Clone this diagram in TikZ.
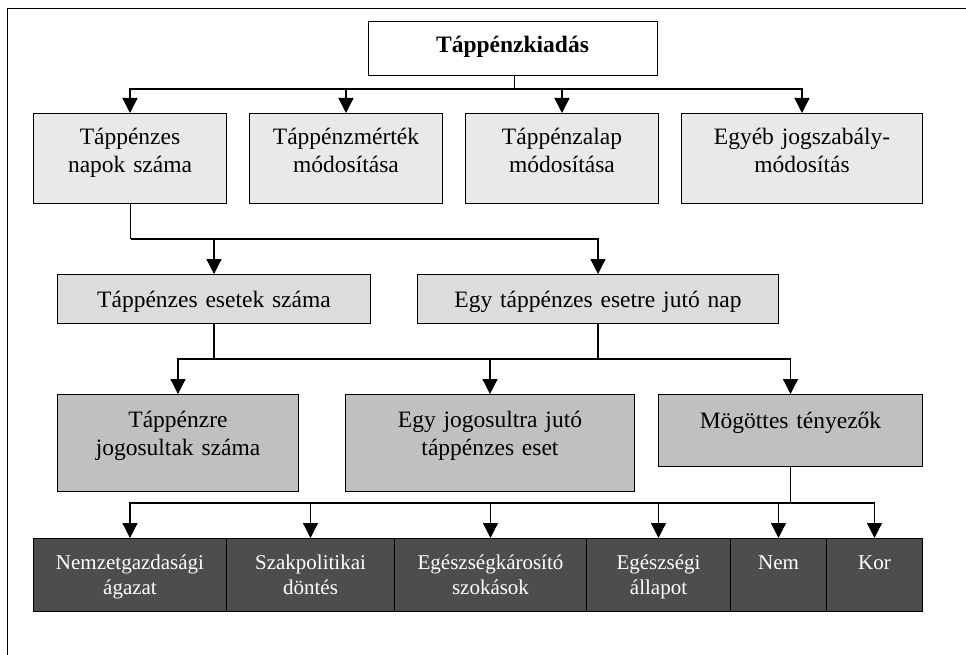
\documentclass[tikz,border=0pt]{standalone}
\usepackage{fontspec}
\setmainfont{Liberation Serif}
\usetikzlibrary{arrows.meta}
\definecolor{fillTop}{HTML}{FFFFFF}
\definecolor{fillA}{HTML}{E9E9E9}
\definecolor{fillB}{HTML}{DCDCDC}
\definecolor{fillC}{HTML}{C0C0C0}
\definecolor{fillD}{HTML}{4D4D4D}
\begin{document}
\begin{tikzpicture}[x=1pt,y=-1pt,
  box/.style={draw=black, line width=1pt, inner sep=0pt, anchor=north west},
  lbl/.style={anchor=base, align=center, inner sep=0pt, font=\fontsize{23.5}{28}\selectfont},
  lbls/.style={anchor=base, align=center, inner sep=0pt, font=\fontsize{21}{25}\selectfont, text=white},
  ln/.style={line width=1.3pt},
  arr/.style={line width=1.3pt, -{Triangle[width=15pt,length=15pt]}}]
\useasboundingbox (0,0) rectangle (966,655);
\draw[line width=1pt] (7,660) -- (7,9) -- (970,9);

% top
\node[box, fill=fillTop, minimum width=289pt, minimum height=54pt] (top) at (368,21) {};
\node[lbl, text width=280pt, font=\fontsize{23.5}{28}\selectfont\bfseries] (ttop) at (512.5,53) {Táppénzkiadás};

% row 2
\node[box, fill=fillA, minimum width=193pt, minimum height=90pt] (b1) at (33,113) {};
\node[box, fill=fillA, minimum width=193pt, minimum height=90pt] (b2) at (249,113) {};
\node[box, fill=fillA, minimum width=193pt, minimum height=90pt] (b3) at (465,113) {};
\node[box, fill=fillA, minimum width=241pt, minimum height=90pt] (b4) at (681,113) {};
\node[lbl, text width=188pt] (tb1) at (b1.north |- 0,145) {Táppénzes\\napok száma};
\node[lbl, text width=188pt] (tb2) at (b2.north |- 0,145) {Táppénzmérték\\módosítása};
\node[lbl, text width=188pt] (tb3) at (b3.north |- 0,145) {Táppénzalap\\módosítása};
\node[lbl, text width=236pt] (tb4) at (b4.north |- 0,145) {Egyéb jogszabály-\\módosítás};

% row 3
\node[box, fill=fillB, minimum width=313pt, minimum height=49pt] (c1) at (57,274) {};
\node[box, fill=fillB, minimum width=361pt, minimum height=49pt] (c2) at (417,274) {};
\node[lbl, text width=308pt] (tc1) at (c1.north |- 0,307) {Táppénzes esetek száma};
\node[lbl, text width=356pt] (tc2) at (c2.north |- 0,307) {Egy táppénzes esetre jutó nap};

% row 4
\node[box, fill=fillC, minimum width=241pt, minimum height=97pt] (d1) at (57,394) {};
\node[box, fill=fillC, minimum width=289pt, minimum height=97pt] (d2) at (345,394) {};
\node[box, fill=fillC, minimum width=264pt, minimum height=72pt] (d3) at (658,394) {};
\node[lbl, text width=236pt] (td1) at (d1.north |- 0,427) {Táppénzre\\jogosultak száma};
\node[lbl, text width=284pt] (td2) at (d2.north |- 0,427) {Egy jogosultra jutó\\táppénzes eset};
\node[lbl, text width=259pt] (td3) at (d3.north |- 0,428) {Mögöttes tényezők};

% row 5
\node[box, fill=fillD, minimum width=193pt, minimum height=73pt] (e1) at (33,538) {};
\node[box, fill=fillD, minimum width=168pt, minimum height=73pt] (e2) at (226,538) {};
\node[box, fill=fillD, minimum width=192pt, minimum height=73pt] (e3) at (394,538) {};
\node[box, fill=fillD, minimum width=144pt, minimum height=73pt] (e4) at (586,538) {};
\node[box, fill=fillD, minimum width=96pt, minimum height=73pt] (e5) at (730,538) {};
\node[box, fill=fillD, minimum width=96pt, minimum height=73pt] (e6) at (826,538) {};
\node[lbls, text width=188pt] (te1) at (e1.north |- 0,569) {Nemzetgazdasági\\ágazat};
\node[lbls, text width=164pt] (te2) at (e2.north |- 0,569) {Szakpolitikai\\döntés};
\node[lbls, text width=188pt] (te3) at (e3.north |- 0,569) {Egészségkárosító\\szokások};
\node[lbls, text width=140pt] (te4) at (e4.north |- 0,569) {Egészségi\\állapot};
\node[lbls, text width=92pt] (te5) at (e5.north |- 0,569) {Nem};
\node[lbls, text width=92pt] (te6) at (e6.north |- 0,569) {Kor};

% connectors: top -> row 2
\coordinate (j1) at ([xshift=1.5pt]top.south |- 0,89);
\draw[ln] ([xshift=1.5pt]top.south) -- (j1);
\foreach \n in {b1,b2,b3,b4} \draw[arr] (j1) -| (\n.north);

% b1 -> row 3
\coordinate (j2) at ([xshift=0.5pt]b1.south |- 0,239);
\draw[ln] ([xshift=0.5pt]b1.south) -- (j2);
\draw[arr] (j2) -| (c1.north);
\draw[arr] (j2) -| (c2.north);

% row 3 -> row 4
\coordinate (j3a) at (c1.south |- 0,359);
\coordinate (j3b) at (c2.south |- 0,359);
\draw[ln] (c1.south) -- (j3a) -- (j3b);
\draw[ln] (c2.south) -- (j3b);
\draw[arr] (j3a) -| (d1.north);
\draw[arr] (j3b) -| (d2.north);
\draw[arr] (j3b) -| (d3.north);

% d3 -> row 5
\coordinate (j4) at (d3.south |- 0,503);
\draw[ln] (d3.south) -- (j4);
\foreach \n in {e1,e2,e3,e4,e5,e6} \draw[arr] (j4) -| (\n.north);
\end{tikzpicture}
\end{document}
